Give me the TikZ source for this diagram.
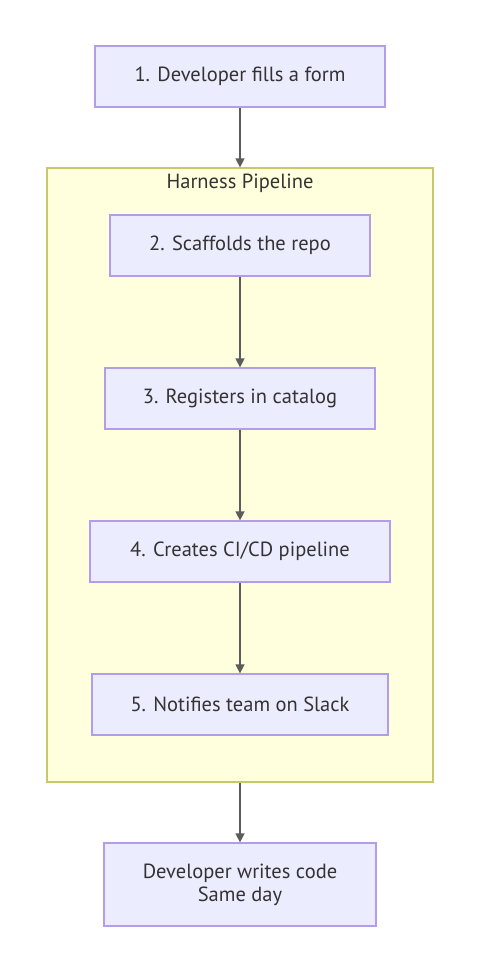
\documentclass[tikz,border=0pt]{standalone}
\usepackage{fontspec}
\setmainfont{PT Sans}
\usepackage{tikz}
\usetikzlibrary{arrows.meta,positioning}

\definecolor{stepfill}{HTML}{ECECFF}
\definecolor{stepline}{HTML}{B39DE8}
\definecolor{groupfill}{HTML}{FFFFDE}
\definecolor{groupline}{HTML}{C8C86A}
\definecolor{inkgrey}{HTML}{333333}

\begin{document}
\begin{tikzpicture}[x=1pt,y=-1pt,
    stepbox/.style={draw=stepline, fill=stepfill, line width=1.2pt, minimum height=61pt,
        text=inkgrey, font=\fontsize{20.5}{23}\selectfont, align=center, inner sep=0pt},
    groupbox/.style={draw=groupline, fill=groupfill, line width=1.2pt, inner sep=0pt},
    flow/.style={draw=inkgrey!80, line width=1.3pt, -{Triangle[length=9pt,width=9pt]}}]
    \useasboundingbox (0,0) rectangle (480,973);

    % Harness pipeline group
    \node[groupbox, minimum width=386pt, minimum height=614pt] (harness) at (240,475) {};
    \node[text=inkgrey, font=\fontsize{20.5}{23}\selectfont, anchor=center] (harnesstitle) at (240,183) {Harness Pipeline};

    % Steps
    \node[stepbox, minimum width=290pt] (form) at (240,76.5) {1. Developer fills a form};
    \node[stepbox, minimum width=260pt] (scaffold) at (240,245.5) {2. Scaffolds the repo};
    \node[stepbox, minimum width=270pt] (catalog) at (240,398.5) {3. Registers in catalog};
    \node[stepbox, minimum width=300pt] (cicd) at (240,551.5) {4. Creates CI/CD pipeline};
    \node[stepbox, minimum width=296pt] (slack) at (240,704.5) {5. Notifies team on Slack};
    \node[stepbox, minimum width=272pt, minimum height=83pt] (code) at (240,884.5) {Developer writes code\\Same day};

    % Connectors
    \draw[flow] (form) -- (harness.north);
    \draw[flow] (scaffold) -- (catalog);
    \draw[flow] (catalog) -- (cicd);
    \draw[flow] (cicd) -- (slack);
    \draw[flow] (harness.south) -- (code);

\end{tikzpicture}
\end{document}
